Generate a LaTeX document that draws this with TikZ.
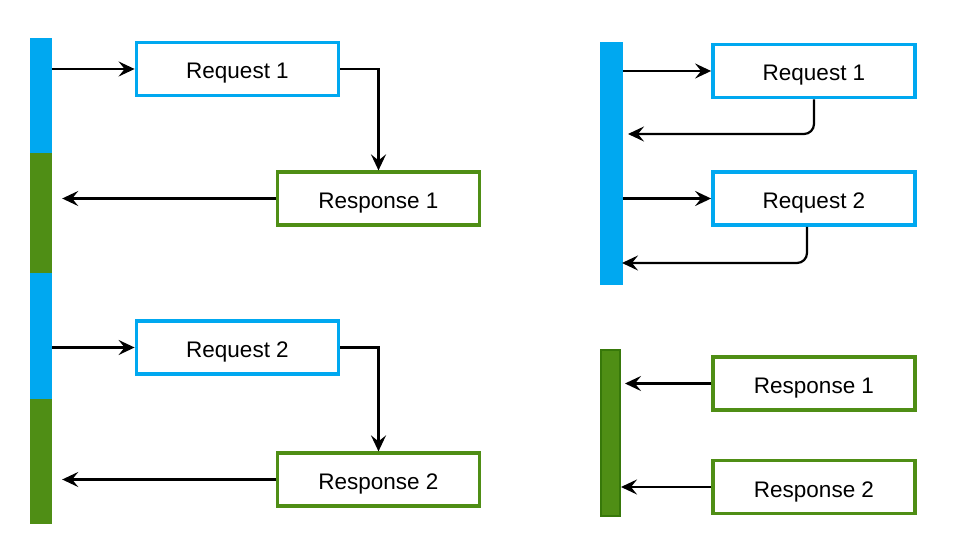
\documentclass[tikz,border=0pt]{standalone}
\usepackage{fontspec}
\setmainfont{Liberation Sans}
\usetikzlibrary{arrows.meta,calc}
\definecolor{cblue}{RGB}{0,168,240}
\definecolor{cgreen}{RGB}{79,142,21}
\definecolor{cgreendark}{RGB}{55,120,10}
\begin{document}
\begin{tikzpicture}[x=1pt,y=-1pt,
  box/.style={draw,fill=white,minimum width=202pt,minimum height=53pt,inner sep=0pt,text height=20pt,text depth=0pt,font=\fontsize{22.5}{26}\selectfont},
  reqbox/.style={box,draw=cblue,line width=3.8pt},
  resbox/.style={box,draw=cgreen,line width=3.2pt},
  seg/.style={inner sep=0pt,minimum width=22pt},
  arr/.style={draw=black,line width=2.2pt,-{Stealth[length=16pt,width=15pt,inset=6pt]}}
]
\useasboundingbox (0,0) rectangle (964,534);
% left bar
\node[seg,fill=cblue,minimum height=115pt] (lb1) at (41,95.5) {};
\node[seg,fill=cgreen,minimum height=120pt] (lg1) at (41,213) {};
\node[seg,fill=cblue,minimum height=126pt] (lb2) at (41,336) {};
\node[seg,fill=cgreen,minimum height=125pt] (lg2) at (41,461.5) {};
% left boxes
\node[reqbox] (req1) at (237.5,69) {Request 1};
\node[resbox] (res1) at (378.5,198.5) {Response 1};
\node[reqbox] (req2) at (237.5,347.5) {Request 2};
\node[resbox] (res2) at (378.5,479.5) {Response 2};
\draw[arr] (lb1.east |- req1.west) -- (req1.west);
\draw[arr] (req1.east) -| (res1.north);
\draw[arr,shorten >=10pt] (res1.west) -- (lg1.east |- res1.west);
\draw[arr] (lb2.east |- req2.west) -- (req2.west);
\draw[arr] (req2.east) -| (res2.north);
\draw[arr,shorten >=10pt] (res2.west) -- (lg2.east |- res2.west);
% right top
\node[inner sep=0pt,minimum width=23pt,minimum height=243pt,fill=cblue] (rb) at (611.5,163.5) {};
\node[reqbox] (rreq1) at (814,71) {Request 1};
\node[reqbox] (rreq2) at (814,198.5) {Request 2};
\coordinate (rback1) at (628,134);
\coordinate (rback2) at (622,263);
\draw[arr] (rb.east |- rreq1.west) -- (rreq1.west);
\draw[arr,rounded corners=10pt] (rreq1.south) |- (rback1);
\draw[arr] (rb.east |- rreq2.west) -- (rreq2.west);
\draw[arr,rounded corners=10pt] ([xshift=-7pt]rreq2.south) |- (rback2);
% right bottom
\node[inner sep=0pt,minimum width=19pt,minimum height=166pt,fill=cgreen,draw=cgreendark,line width=2pt] (rg) at (610.5,433) {};
\node[resbox] (rres1) at (814,383.5) {Response 1};
\node[resbox] (rres2) at (814,487) {Response 2};
\draw[arr,shorten >=4pt] (rres1.west) -- (rg.east |- rres1.west);
\draw[arr] (rres2.west) -- (rg.east |- rres2.west);
\end{tikzpicture}
\end{document}
